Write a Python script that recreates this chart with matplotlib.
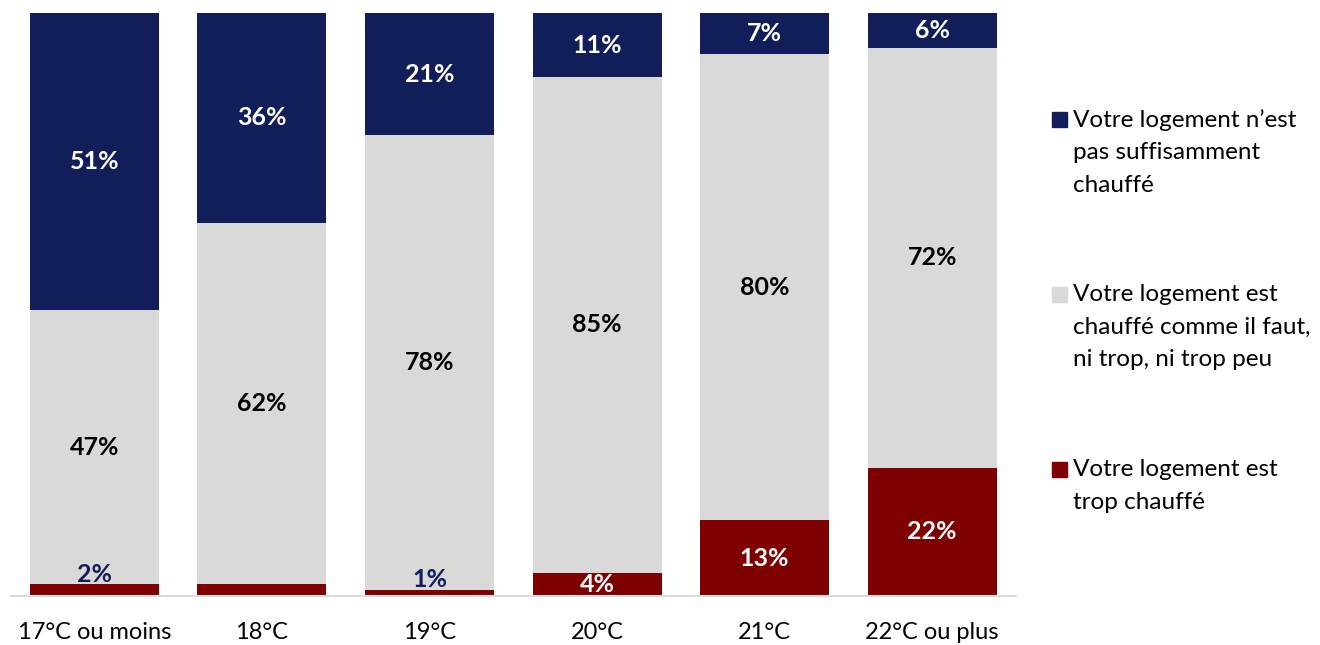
import matplotlib
matplotlib.use("Agg")
import matplotlib.pyplot as plt
from matplotlib.patches import Rectangle
import numpy as np

plt.rcParams['font.family'] = ['Lato', 'DejaVu Sans']

categories = ["17°C ou moins", "18°C", "19°C", "20°C", "21°C", "22°C ou plus"]
trop = [2, 2, 1, 4, 13, 22]
bien = [47, 62, 78, 85, 80, 72]
pas_assez = [51, 36, 21, 11, 7, 6]
trop_labels = ["2%", "", "1%", "4%", "13%", "22%"]
legend_labels = ["Votre logement n’est\npas suffisamment\nchauffé",
                 "Votre logement est\nchauffé comme il faut,\nni trop, ni trop peu",
                 "Votre logement est\ntrop chauffé"]

c_navy = "#121E5A"
c_gray = "#D9D9D9"
c_red = "#7F0000"

fig = plt.figure(figsize=(13.2, 6.45), dpi=100)
ax = fig.add_axes([10.5/1320, 1 - 596/645, (1016 - 10.5)/1320, (596 - 13)/645])

x = np.arange(len(categories))
w = 0.77
trop_a = np.array(trop, float)
bien_a = np.array(bien, float)
pas_a = np.array(pas_assez, float)

ax.bar(x, trop_a, w, color=c_red)
ax.bar(x, bien_a, w, bottom=trop_a, color=c_gray)
ax.bar(x, pas_a, w, bottom=trop_a + bien_a, color=c_navy)

ax.set_xlim(-0.5, len(categories) - 0.5)
ax.set_ylim(0, 100)

fs = 18
for i in range(len(categories)):
    ax.text(x[i], trop_a[i] + bien_a[i] + pas_a[i] / 2, f"{pas_assez[i]}%",
            ha='center', va='center', color='white', fontsize=fs, fontweight='bold')
    ax.text(x[i], trop_a[i] + bien_a[i] / 2, f"{bien[i]}%",
            ha='center', va='center', color='black', fontsize=fs, fontweight='bold')
    if trop_labels[i]:
        if trop[i] >= 4:
            ax.text(x[i], trop_a[i] / 2, trop_labels[i], ha='center', va='center',
                    color='white', fontsize=fs, fontweight='bold')
        else:
            ax.text(x[i], trop_a[i] - 0.2, trop_labels[i], ha='center', va='bottom',
                    color=c_navy, fontsize=fs, fontweight='bold')

for s in ['top', 'right', 'left']:
    ax.spines[s].set_visible(False)
ax.spines['bottom'].set_color('#D9D9D9')
ax.spines['bottom'].set_linewidth(1.5)
ax.set_yticks([])
ax.set_xticks(x)
ax.set_xticklabels(categories, fontsize=17)
ax.tick_params(axis='x', length=0, pad=19)

# legend
colors = [c_navy, c_gray, c_red]
ys = [120, 295, 470]
for col, lab, yy in zip(colors, legend_labels, ys):
    fig.patches.append(Rectangle((1052/1320, 1 - (yy + 7)/645), 15/1320, 15/645,
                                 transform=fig.transFigure, color=col))
    fig.text(1073/1320, 1 - (yy - 11)/645, lab, ha='left', va='top', fontsize=17.5,
             linespacing=1.68, color='black')

fig.savefig("out.png", dpi=100)
